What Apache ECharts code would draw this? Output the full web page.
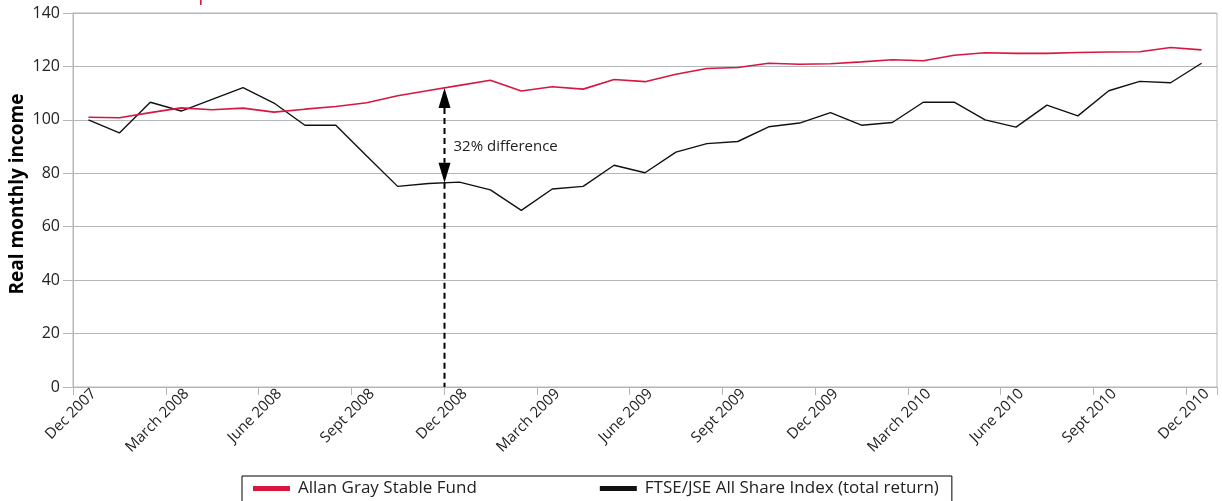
<!DOCTYPE html>
<html>
<head>
<meta charset="utf-8">
<script src="https://cdn.jsdelivr.net/npm/echarts@6/dist/echarts.min.js"></script>
<style>
html,body{margin:0;padding:0;background:#fff;}
#chart{width:1222px;height:501px;}
</style>
</head>
<body>
<div id="chart"></div>
<script>
const categories = [
  'Dec 2007','Jan 2008','Feb 2008','March 2008','Apr 2008','May 2008','June 2008','July 2008','Aug 2008','Sept 2008','Oct 2008','Nov 2008',
  'Dec 2008','Jan 2009','Feb 2009','March 2009','Apr 2009','May 2009','June 2009','July 2009','Aug 2009','Sept 2009','Oct 2009','Nov 2009',
  'Dec 2009','Jan 2010','Feb 2010','March 2010','Apr 2010','May 2010','June 2010','July 2010','Aug 2010','Sept 2010','Oct 2010','Nov 2010',
  'Dec 2010'
];
const stableFund = [
  101.0,100.8,102.7,104.5,103.8,104.4,102.9,104.0,105.0,106.4,109.0,111.0,
  112.9,114.8,110.8,112.4,111.5,115.1,114.3,117.1,119.2,119.6,121.2,120.8,
  121.0,121.7,122.5,122.1,124.2,125.1,124.9,124.9,125.2,125.4,125.5,127.1,
  126.2
];
const allShare = [
  100.0,95.1,106.6,103.3,107.7,112.1,106.3,98.0,98.0,86.5,75.1,76.2,
  76.7,73.8,66.1,74.1,75.1,83.0,80.2,87.9,91.1,91.9,97.4,98.8,
  102.7,98.0,99.0,106.6,106.6,100.0,97.3,105.5,101.5,110.9,114.4,113.9,
  121.2
];
const yTicks = [0, 20, 40, 60, 80, 100, 120, 140];
const seriesNames = ['Allan Gray Stable Fund', 'FTSE/JSE All Share Index (total return)'];
const annotationCategory = 'Dec 2008';
const annotationText = '32% difference';
const annotationLabelValue = 90;

const RED = '#d7173f';
const BLACK = '#111111';
const GRID = '#b4b7ba';
const FONT = "'Open Sans', sans-serif";

const chart = echarts.init(document.getElementById('chart'), null, {renderer: 'canvas'});
chart.setOption({
  animation: false,
  backgroundColor: '#fff',
  textStyle: {fontFamily: FONT},
  grid: {left: 73, top: 13, right: 5, bottom: 114, show: true, borderColor: GRID, borderWidth: 1, containLabel: false, outerBoundsMode: 'none'},
  legend: {
    left: 242, top: 476,
    data: seriesNames,
    icon: 'rect', itemWidth: 37, itemHeight: 5, itemGap: 123,
    borderColor: '#000', borderWidth: 1, borderRadius: 0,
    padding: [4, 13, 20, 11],
    textStyle: {fontFamily: FONT, fontSize: 17, color: '#222', padding: [0, 0, 0, 3]}
  },
  xAxis: {
    type: 'category',
    data: categories,
    boundaryGap: true,
    axisLine: {lineStyle: {color: GRID, width: 1}},
    axisTick: {show: true, interval: 2, length: 8, lineStyle: {color: GRID}},
    axisLabel: {interval: 2, rotate: 45, fontSize: 15, color: '#222', fontFamily: FONT, margin: -1, verticalAlign: 'top'},
    splitLine: {show: false}
  },
  yAxis: {
    type: 'value',
    min: yTicks[0], max: yTicks[yTicks.length - 1], interval: 20,
    name: 'Real monthly income',
    nameLocation: 'middle', nameGap: 46, nameRotate: 90, nameMoveOverlap: false,
    nameTextStyle: {fontFamily: FONT, fontWeight: 'bold', fontSize: 19, color: '#000', padding: [0, 0, 0, 12]},
    axisLine: {show: true, lineStyle: {color: GRID, width: 1}},
    axisTick: {show: true, length: 10, lineStyle: {color: GRID}},
    axisLabel: {fontSize: 16, color: '#222', fontFamily: FONT, margin: 13},
    splitLine: {show: true, lineStyle: {color: GRID, width: 1}}
  },
  series: [
    {name: seriesNames[0], type: 'line', data: stableFund, symbol: 'none', itemStyle: {color: RED}, lineStyle: {color: RED, width: 1.6}, z: 3},
    {name: seriesNames[1], type: 'line', data: allShare, symbol: 'none', itemStyle: {color: BLACK}, lineStyle: {color: BLACK, width: 1.4}, z: 2}
  ]
});

// Annotation: dashed double arrow at the Dec 2008 tick (category boundary)
const idx = categories.indexOf(annotationCategory);
const cx = chart.convertToPixel({xAxisIndex: 0}, idx);
const band = chart.convertToPixel({xAxisIndex: 0}, idx + 1) - cx;
const ax = Math.round(cx - band / 2) + 0.5;
const topVal = (stableFund[idx - 1] + stableFund[idx]) / 2;
const botVal = (allShare[idx - 1] + allShare[idx]) / 2;
const yTop = chart.convertToPixel({yAxisIndex: 0}, topVal);
const yBot = chart.convertToPixel({yAxisIndex: 0}, botVal);
const y0 = chart.convertToPixel({yAxisIndex: 0}, 0);
const yLab = chart.convertToPixel({yAxisIndex: 0}, annotationLabelValue);
const headL = 20, headW = 6;
const dash = {stroke: '#000', lineWidth: 2, lineDash: [6, 4]};
chart.setOption({
  graphic: [
    {type: 'line', shape: {x1: ax, y1: yTop + headL, x2: ax, y2: yBot - headL}, style: dash, silent: true},
    {type: 'line', shape: {x1: ax, y1: yBot, x2: ax, y2: y0}, style: dash, silent: true},
    {type: 'polygon', shape: {points: [[ax, yTop], [ax - headW, yTop + headL], [ax + headW, yTop + headL]]}, style: {fill: '#000'}, silent: true},
    {type: 'polygon', shape: {points: [[ax, yBot], [ax - headW, yBot - headL], [ax + headW, yBot - headL]]}, style: {fill: '#000'}, silent: true},
    {type: 'text', x: ax + 9, y: yLab, style: {text: annotationText, fontFamily: FONT, fontSize: 15, fill: '#222', verticalAlign: 'middle', align: 'left'}, silent: true},
    {type: 'rect', shape: {x: 200, y: 0, width: 1.6, height: 5}, style: {fill: RED}, silent: true}
  ]
});
</script>
</body>
</html>
